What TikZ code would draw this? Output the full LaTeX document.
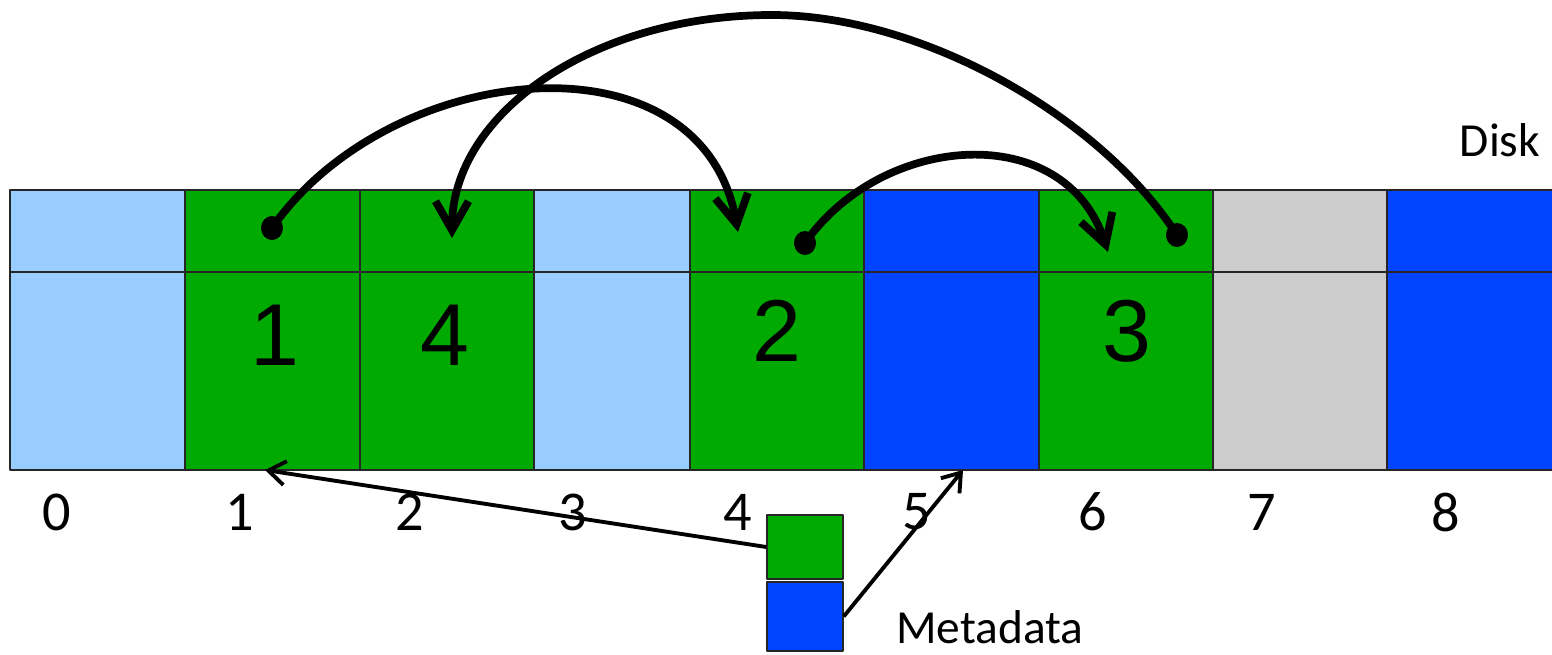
\documentclass[tikz,border=0pt]{standalone}
\usepackage{fontspec}
\setmainfont{Carlito}
\newfontfamily\digitfont{Liberation Sans}
\usetikzlibrary{arrows.meta}

\definecolor{freeblk}{HTML}{99CCFF}
\definecolor{usedblk}{HTML}{00AA00}
\definecolor{metablk}{HTML}{0044FF}
\definecolor{greyblk}{HTML}{CCCCCC}

\tikzset{
	blk/.style={draw=black!85, line width=0.4pt},
	hop/.style={line width=2.2pt, line cap=round, -{Straight Barb[length=2.9mm,width=3.3mm]}},
	ptr/.style={line width=1.1pt, -{Straight Barb[length=1.7mm,width=2.4mm]}},
	num/.style={font=\digitfont\fontsize{25}{25}\selectfont},
	idx/.style={font=\fontsize{16}{16}\selectfont},
	lbl/.style={font=\fontsize{13.5}{13.5}\selectfont},
	mbox/.style={draw=black!85, line width=0.4pt, minimum width=7.6mm, inner sep=0pt}
}

\begin{document}
\begin{tikzpicture}[x=0.1mm, y=0.1mm, line join=round]
	\useasboundingbox (0,0) rectangle (1552,654);
	\clip (0,0) rectangle (1552,654);
	% disk blocks
	\foreach \l/\r/\c in {10/185/freeblk, 185/360/usedblk, 360/534/usedblk, 534/708/freeblk, 690/864/usedblk, 864/1039/metablk, 1039/1213/usedblk, 1213/1387/greyblk, 1387/1570/metablk}
	\draw[blk, fill=\c] (\l,184) rectangle (\r,464) (\l,382) -- (\r,382);
	\foreach \i/\x in {0/57, 1/240, 2/410, 3/573, 4/738, 5/917, 6/1093, 7/1262, 8/1446}
	\node[idx] (i\i) at (\x,142) {\i};
	\node[num] (n1) at (275,319) {1};
	\node[num] (n4) at (445,319) {4};
	\node[num] (n2) at (777,323) {2};
	\node[num] (n3) at (1127,323) {3};
	\node[lbl] (disk) at (1500,514) {Disk};
	% metadata
	\node[mbox, fill=usedblk, minimum height=6.4mm] (mg) at (805,107) {};
	\node[mbox, fill=metablk, minimum height=6.9mm] (mb) at (805,37.5) {};
	\node[lbl] (meta) at (990,27) {Metadata};
	\coordinate (b1) at (265,184);
	\coordinate (b5) at (963,184);
	\draw[ptr] (mg.west) -- (b1);
	\draw[ptr] (mb.east) -- (b5);
	% chain of blocks
	\coordinate (s1) at (272,426);  \coordinate (t1) at (738,422);
	\coordinate (s2) at (1177,419); \coordinate (t2) at (452,416);
	\coordinate (s3) at (805,411);  \coordinate (t3) at (1108,402);
	\coordinate (p2) at (772,639);
	\foreach \p in {s1,s2,s3}
	\fill (\p) ellipse (11 and 12);
	\draw[hop] (s1) .. controls +(55:207) and +(100:207) .. (t1);
	\draw[hop] (s2) .. controls +(123:144) and +(0:148) .. (p2)
	.. controls +(180:180) and +(90:124) .. (t2);
	\draw[hop] (s3) .. controls +(55:135) and +(108:140) .. (t3);
\end{tikzpicture}
\end{document}
